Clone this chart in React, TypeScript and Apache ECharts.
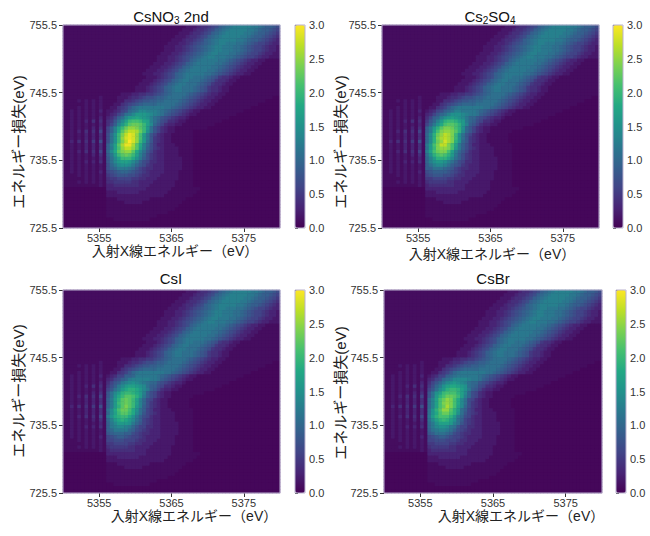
import React, { useEffect, useRef } from "react";
import * as echarts from "echarts";

const FONT = "'Liberation Sans', Arial, 'Noto Sans CJK JP', sans-serif";

const X_MIN = 5350;
const X_MAX = 5380;
const Y_MIN = 725.5;
const Y_MAX = 755.5;
const CELL = 0.5;
const X_TICKS = [5355, 5365, 5375];
const Y_TICKS = [725.5, 735.5, 745.5, 755.5];
const CB_MIN = 0;
const CB_MAX = 3;
const CB_STEP = 0.5;
// one character per 0.5 eV x 0.5 eV cell: "." = 0.05, otherwise value = index / 10 (0.0 ... 3.0); spaces are separators
const LEVELS = "0123456789ABCDEFGHIJKLMNOPQRSTU";
const BACKGROUND_LEVEL = 0.05;
const VIRIDIS = ["#440154", "#482475", "#414487", "#355f8d", "#2a788e", "#21918c", "#22a884", "#44bf70", "#7ad151", "#bddf26", "#fde725"];

// rows 755.25 ... 743.25 eV (diagonal band, same in the four maps)
const RIDGE_ROWS = [
  "1111111111 1111111111 1111111111 1111222344 5679ABCDDD DDCCBA9987",
  "1111111111 1111111111 1111111111 1112223445 679ABCDDDD DCCBA99876",
  "1111111111 1111111111 1111111111 1122234456 79ABCDDDDD CCBA998765",
  "1111111111 1111111111 1111111111 1222344567 9ABCDDDDDC CBA9987654",
  "1111111111 1111111111 1111111111 2223445679 ABCDDDDDCC BA99876543",
  "1111111111 1111111111 1111111112 2233456789 ABCDDCCCBB A987665433",
  "1111111111 1111111111 1111111122 233456789A BCDDCCCBBA 9876654332",
  "1111111111 1111111111 1111111122 233456789A BCDDCCCBBA 9876654332",
  "1111111111 1111111111 1111111222 33456789AB CDDCCCBBA9 8766543322",
  "1111111111 1111111111 1111112223 3456789ABC DDCCCBBA98 7665433222",
  "1111111111 1111111111 1111112223 345679ABCC CCCBBA9876 5433221111",
  "1111111111 1111111111 1111122233 45679ABCCC CCBBA98765 4332211111",
  "1111111111 1111111111 1111222334 5679ABCCCC CBBA987654 3322111111",
  "1111111111 1111111111 1112223345 679ABCCCCC BBA9876543 3221111111",
  "1111111111 1111111111 1122233456 79ABCCCCCB BA98765433 2211111111",
  "1111111111 1111111111 1112223456 79ABCCBBBA 9875443221 1111111111",
  "1111111111 1111111111 1122234567 9ABCCBBBA9 8754432211 1111111111",
  "1111111111 1111111111 1222345679 ABCCBBBA98 7544322111 1111111111",
  "1111111111 1111111111 222345679A BCCBBBA987 5443221111 1111111111",
  "1111111111 1111111111 222345679A BCCBBBA987 5443221111 1111111111",
  "1111111111 1111112223 344556789A BBBBA98765 4332211111 1111111111",
  "1111111111 2111122234 45677899AB BBBA987654 3322111111 11111111..",
  "1111212121 2111122445 678899AABB BBA9876543 3221111111 111111....",
  "1111112121 2111224567 89AAAABBBB BA98765433 2211111111 1111......",
  "1111212121 211224568A BCCCCCCCBB A987654332 2111111111 11........",
];

// rows 742.75 ... 731.75 eV (main peak)
const CSNO3_CORE = [
  "112121212131 223467AB CEEDDDCBA9 8765432211 1111111111 ..........",
  "112121212121 23468BCE GGGFEDCB98 7654322111 11111111.. ..........",
  "112121212131 3469BEGH IHGFDBA876 5433211111 111111.... ..........",
  "112121314141 458BEHKL LKIHDB9764 4322111111 1111...... ..........",
  "112121212131 469DGJMN NMKHEA8643 3221111111 11........ ..........",
  "112121213141 69DHKNPP OMKGB86432 2111111111 .......... ..........",
  "112131414161 69DIMPRR QNKFB86432 211111.... .......... ..........",
  "112121313141 7BFKORTS PLGC864322 111111.... .......... ..........",
  "112121313141 7BFKPSTS PLGC854322 111111.... .......... ..........",
  "113141415171 7BFKORUS PKGB854322 111111.... .......... ..........",
  "112121313141 9DHMQTTQ MIDA753322 211111.... .......... ..........",
  "112121313141 9CHLPRRP MHD9754322 221111.... .......... ..........",
  "112131414161 AEIMOPPM IEB8643322 221111.... .......... ..........",
  "112121213141 9CGKMNMK HDA7543322 221111.... .......... ..........",
  "112121212131 8BEHKKKI FC97543322 222111.... .......... ..........",
  "112121313141 8BEGHHGE C976443322 222111.... .......... ..........",
  "112121212121 7ACEFFEC A875433322 222111.... .......... ..........",
  "112121212121 79ACCCBA 8654433322 222111.... .......... ..........",
  "112121212131 6789AA98 7654333322 221111.... .......... ..........",
  "111121212121 56788877 6544333222 221111.... .......... ..........",
  "111111212121 45566665 5443332222 221111.... .......... ..........",
  "111121212121 44555554 4333322222 211111.... .......... ..........",
  "111111111121 33444444 4333222222 211111.... .......... ..........",
];

const CS2SO4_CORE = [
  "112121212131 234679ABDD CCC CBA9876543221111 111111111 ..........",
  "112121212121 3468ABDFFF EDC CB98765432211111 1111111 ............",
  "112121212131 469ADFGHGF ECA A876543321111111 11111 ..............",
  "112121314141 58ADGJKKJHGCA 9764432211111111 111 ................",
  "112121212131 69CFILMMLJGD9 8643322111111111 1 ..................",
  "112121213141 9CGJMOONLJFA8 64322111111111.. ...................",
  "112131414161 9CHLOPPOMJEA8 64322111111..... ...................",
  "112121313141 AEJNPRQOKFB86 4322111111...... ...................",
  "112121313141 AEJOQRQOKFB85 4322111111...... ...................",
  "113141415171 AEJNPSQOJFA85 4322111111...... ...................",
  "112121313141 CGLORROLHC975 33222111111..... ...................",
  "112121313141 BGKOPPOLGC975 43222211111..... ...................",
  "112131414161 DHLNOOLHDA864 33222211111..... ...................",
  "112121213141 BFJLMLJGC9754 33222211111..... ...................",
  "112121212131 ADGJJJHEB9754 33222221111..... ...................",
  "112121313141 ADFGGFDB97644 33222221111..... ...................",
  "112121212121 9BDEEDB987543 33222221111..... ...................",
  "112121212121 99BBBA9865443 33222221111..... ...................",
  "112121212131 7899998765433 33222211111..... ...................",
  "111121212121 6788877654433 32222211111..... ...................",
  "111111212121 5566665544333 22222211111..... ...................",
  "111121212121 4555554 433332 22222111111..... ...................",
  "111111111121 3444444 433322 22222111111..... ...................",
];

const CSI_CORE = [
  "112121212131 2346699ACC CCC CBA9876543221111 111111111 ..........",
  "112121212121 34679ACDDD DDC CB98765432211111 1111111 ............",
  "112121212131 4689CDEFED CBA A876543321111111 11111 ..............",
  "112121314141 579CEGHHGFEB9 9764432211111111 111 ................",
  "112121212131 68BDGIJJIGEC9 8643322111111111 1 ..................",
  "112121213141 8BEGJKKJIGD97 64322111111111.. ...................",
  "112131414161 8BFIKMMLJGC97 64322111111..... ...................",
  "112121313141 9CGJMNMKHDA76 4322111111...... ...................",
  "112121313141 9CGKMNMKHDA75 4322111111...... ...................",
  "113141415171 9CGJMOMKGD975 4322111111...... ...................",
  "112121313141 BEILNNLIFB965 33222111111..... ...................",
  "112121313141 AEHKMMKIEB865 43222211111..... ...................",
  "112131414161 CFIJKKIFC9764 33222211111..... ...................",
  "112121213141 ADGIJIGEB9654 33222211111..... ...................",
  "112121212131 9CEGGGFCA8654 33222221111..... ...................",
  "112121313141 9CDEEDCA86644 33222221111..... ...................",
  "112121212121 9ACCCCA976543 33222221111..... ...................",
  "112121212121 89AAA99765443 33222221111..... ...................",
  "112121212131 6789987665433 33222211111..... ...................",
  "111121212121 6677766654433 32222211111..... ...................",
  "111111212121 5566665544333 22222211111..... ...................",
  "111121212121 4555554 433332 22222111111..... ...................",
  "111111111121 3444444 433322 22222111111..... ...................",
];

const CSBR_CORE = [
  "112121212131 234669ABCC CCC CBA9876543221111 111111111 ..........",
  "112121212121 3467ABCEEE EDC CB98765432211111 1111111 ............",
  "112121212131 468ACEFGFE DBA A876543321111111 11111 ..............",
  "112121314141 57ACFHIIHGFBA 9764432211111111 111 ................",
  "112121212131 68BEGJKKJHFC9 8643322111111111 1 ..................",
  "112121213141 8BFHKLLLJHEA7 64322111111111.. ...................",
  "112131414161 8BGJLNNMKHDA7 64322111111..... ...................",
  "112121313141 ADHLNPOLIEB76 4322111111...... ...................",
  "112121313141 ADHLOPOLIEB75 4322111111...... ...................",
  "113141415171 ADHLNQOLHEA75 4322111111...... ...................",
  "112121313141 BFJMPPMJGB965 33222111111..... ...................",
  "112121313141 BFILNNLJFB865 43222211111..... ...................",
  "112131414161 CGJLLLJGCA764 33222211111..... ...................",
  "112121213141 BEHJKJHFB9654 33222211111..... ...................",
  "112121212131 ACFHHHGDB8654 33222221111..... ...................",
  "112121313141 ACEFFECB86644 33222221111..... ...................",
  "112121212121 9BCDDCB976543 33222221111..... ...................",
  "112121212121 89BBBA9765443 33222221111..... ...................",
  "112121212131 6789987665433 33222211111..... ...................",
  "111121212121 6677766654433 32222211111..... ...................",
  "111111212121 5566665544333 22222211111..... ...................",
  "111121212121 4555554 433332 22222111111..... ...................",
  "111111111121 3444444 433322 22222111111..... ...................",
];

// rows 731.25 ... 725.75 eV (low tail, same in the four maps)
const BASE_ROWS = [
  ".......... ..33333333 3332222222 11111111.. .......... ..........",
  ".......... ..22233333 3222222221 1111111... .......... ..........",
  ".......... ..22222222 2222222211 111111.... .......... ..........",
  ".......... ..11122222 2222111111 1111...... .......... ..........",
  ".......... ..11111222 2211111111 111....... .......... ..........",
  ".......... ..11111111 1111111111 11........ .......... ..........",
  ".......... ..11111111 1111111111 1......... .......... ..........",
  ".......... ..11111111 111111111. .......... .......... ..........",
  ".......... ..11111111 111111.... .......... .......... ..........",
  ".......... ....111111 1111...... .......... .......... ..........",
  ".......... .......... .......... .......... .......... ..........",
  ".......... .......... .......... .......... .......... ..........",
];

const CSNO3_2ND = [...RIDGE_ROWS, ...CSNO3_CORE, ...BASE_ROWS];
const CS2SO4 = [...RIDGE_ROWS, ...CS2SO4_CORE, ...BASE_ROWS];
const CSI = [...RIDGE_ROWS, ...CSI_CORE, ...BASE_ROWS];
const CSBR = [...RIDGE_ROWS, ...CSBR_CORE, ...BASE_ROWS];

const X_TITLE = "入射X線エネルギー（eV）";
const Y_TITLE = "エネルギー損失(eV)";

const PANELS = [
  { title: "{a|CsNO}{s|3}{a| 2nd}", map: CSNO3_2ND, plot: [63, 25, 217, 203], cb: [295, 25, 10, 203], tPos: [171, 17], xPos: [175, 251], yPos: [18, 142] },
  { title: "{a|Cs}{s|2}{a|SO}{s|4}", map: CS2SO4, plot: [382, 25, 217, 203], cb: [613, 25, 10, 203], tPos: [490, 17], xPos: [492, 254], yPos: [340, 142] },
  { title: "{a|CsI}", map: CSI, plot: [63, 290, 217, 203], cb: [295, 290, 10, 203], tPos: [171, 279], xPos: [194, 516], yPos: [18, 391] },
  { title: "{a|CsBr}", map: CSBR, plot: [384, 290, 218, 203], cb: [616, 290, 10, 203], tPos: [493, 279], xPos: [521, 516], yPos: [340, 393] },
];

const N_COLS = Math.round((X_MAX - X_MIN) / CELL);
const N_ROWS = Math.round((Y_MAX - Y_MIN) / CELL);
const X_CATS = Array.from({ length: N_COLS }, (_, i) => (X_MIN + CELL * (i + 0.5)).toFixed(2));
const Y_CATS = Array.from({ length: N_ROWS }, (_, i) => (Y_MIN + CELL * (i + 0.5)).toFixed(2));

function decode(rows: string[]) {
  const data: number[][] = [];
  rows.forEach((row, r) => {
    const cells = row.replace(/ /g, "").padEnd(N_COLS, ".");
    for (let c = 0; c < N_COLS; c++) {
      const ch = cells[c];
      const idx = LEVELS.indexOf(ch);
      const v = ch === "." || idx < 0 ? BACKGROUND_LEVEL : idx / 10;
      data.push([c, N_ROWS - 1 - r, v]);
    }
  });
  return data;
}

const SPINE = "#b9b1cf";
const LABEL = "#333333";

function buildOption() {
  const grid: any[] = [];
  const xAxis: any[] = [];
  const yAxis: any[] = [];
  const series: any[] = [];
  const visualMap: any[] = [];
  const elements: any[] = [];

  PANELS.forEach((p, k) => {
    grid.push({
      left: p.plot[0], top: p.plot[1], width: p.plot[2], height: p.plot[3],
      show: true, z: 5, backgroundColor: "transparent", borderColor: SPINE, borderWidth: 1,
    });
    xAxis.push({ type: "category", gridIndex: k, data: X_CATS, show: false });
    xAxis.push({
      type: "value", gridIndex: k, min: X_MIN, max: X_MAX, position: "bottom",
      axisLine: { show: false }, splitLine: { show: false },
      axisTick: { show: true, length: 4, customValues: X_TICKS, lineStyle: { color: LABEL } },
      axisLabel: { customValues: X_TICKS, margin: 4, fontSize: 11, color: LABEL, fontFamily: FONT, formatter: (v: number) => String(v) },
    });
    yAxis.push({ type: "category", gridIndex: k, data: Y_CATS, show: false });
    yAxis.push({
      type: "value", gridIndex: k, min: Y_MIN, max: Y_MAX, position: "left",
      axisLine: { show: false }, splitLine: { show: false },
      axisTick: { show: true, length: 4, customValues: Y_TICKS, lineStyle: { color: LABEL } },
      axisLabel: { customValues: Y_TICKS, margin: 6, fontSize: 11, color: LABEL, fontFamily: FONT, formatter: (v: number) => v.toFixed(1) },
    });
    series.push({
      type: "heatmap", xAxisIndex: 2 * k, yAxisIndex: 2 * k, data: decode(p.map),
      progressive: 0, emphasis: { disabled: true }, itemStyle: { borderWidth: 0 },
    });
    visualMap.push({
      type: "continuous", seriesIndex: k, dimension: 2, min: CB_MIN, max: CB_MAX,
      inRange: { color: VIRIDIS }, show: true, calculable: false, hoverLink: false,
      orient: "vertical", left: p.cb[0], top: p.cb[1], itemWidth: p.cb[2], itemHeight: p.cb[3], padding: 0,
    });
    elements.push({
      type: "rect", z: -1, silent: true,
      shape: { x: p.plot[0], y: p.plot[1], width: p.plot[2], height: p.plot[3] },
      style: { fill: "#45075b" },
    });
    elements.push({
      type: "text", x: p.tPos[0], y: p.tPos[1],
      style: {
        text: p.title, align: "center", verticalAlign: "middle", fill: "#111", fontFamily: FONT,
        rich: {
          a: { fontSize: 15, fontFamily: FONT, fill: "#111", verticalAlign: "bottom", padding: [0, 0, 2, 0] },
          s: { fontSize: 10, fontFamily: FONT, fill: "#111", verticalAlign: "bottom" },
        },
      },
    });
    elements.push({
      type: "text", x: p.xPos[0], y: p.xPos[1],
      style: { text: X_TITLE, align: "center", verticalAlign: "middle", fill: "#222", fontSize: 14, fontFamily: FONT },
    });
    elements.push({
      type: "text", x: p.yPos[0], y: p.yPos[1], rotation: Math.PI / 2,
      style: { text: Y_TITLE, align: "center", verticalAlign: "middle", fill: "#222", fontSize: 15, fontFamily: FONT },
    });
  });

  PANELS.forEach((p, k) => {
    const gi = PANELS.length + k;
    grid.push({
      left: p.cb[0], top: p.cb[1], width: p.cb[2], height: p.cb[3],
      show: true, z: 6, backgroundColor: "transparent", borderColor: SPINE, borderWidth: 1,
    });
    xAxis.push({ type: "value", gridIndex: gi, min: 0, max: 1, show: false });
    yAxis.push({
      type: "value", gridIndex: gi, min: CB_MIN, max: CB_MAX, interval: CB_STEP, position: "right",
      axisLine: { show: false }, splitLine: { show: false },
      axisTick: { show: true, length: 3, lineStyle: { color: LABEL } },
      axisLabel: { margin: 4, fontSize: 11, color: LABEL, fontFamily: FONT, formatter: (v: number) => v.toFixed(1) },
    });
  });

  return {
    animation: false,
    backgroundColor: "#ffffff",
    grid, xAxis, yAxis, series, visualMap,
    graphic: { elements },
  };
}

export default function App() {
  const ref = useRef<HTMLDivElement>(null);
  useEffect(() => {
    if (!ref.current) return;
    const chart = echarts.init(ref.current, undefined, { renderer: "svg" });
    chart.setOption(buildOption() as any);
    return () => chart.dispose();
  }, []);
  return <div ref={ref} style={{ position: "fixed", left: 0, top: 0, width: 650, height: 536, background: "#fff" }} />;
}
